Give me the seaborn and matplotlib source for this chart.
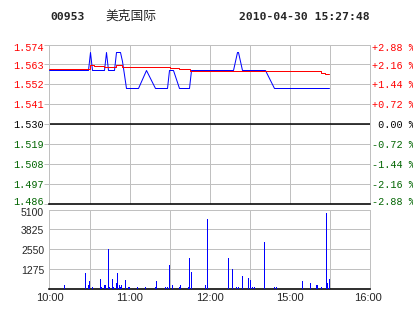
import matplotlib
matplotlib.use("Agg")
import matplotlib.pyplot as plt
import matplotlib.transforms as mtransforms
import seaborn as sns
import pandas as pd
import numpy as np

# ---------------- data ----------------
code = "00953"
name = "美克国际"
stamp = "2010-04-30 15:27:48"
prev_close = 1.530

pct_steps = [2.88, 2.16, 1.44, 0.72, 0.0, -0.72, -1.44, -2.16, -2.88]
price_labels = ["1.574", "1.563", "1.552", "1.541", "1.530",
                "1.519", "1.508", "1.497", "1.486"]
pct_labels = ["+2.88 %", "+2.16 %", "+1.44 %", "+0.72 %", " 0.00 %",
              "-0.72 %", "-1.44 %", "-2.16 %", "-2.88 %"]
vol_ticks = [5100, 3825, 2550, 1275]
vol_labels = ["5100", "3825", "2550", "1275"]
time_labels = ["10:00", "11:00", "12:00", "15:00", "16:00"]
time_label_min = [0, 60, 120, 180, 240]   # minutes on the 240-min session axis

# price (blue) - minutes since 10:00 on the trading-session axis
price_min = [0, 29, 30, 32, 41, 42, 44, 48, 50, 53, 54, 57, 66, 72, 79, 88, 89,
             92, 97, 104, 106, 137, 140, 141, 144, 161, 168, 209]
price_val = [1.56, 1.56, 1.57, 1.56, 1.56, 1.57, 1.56, 1.56, 1.57, 1.57, 1.565,
             1.55, 1.55, 1.56, 1.55, 1.55, 1.56, 1.56, 1.55, 1.55, 1.56, 1.56,
             1.57, 1.57, 1.56, 1.56, 1.55, 1.55]

# average price (red), step series
avg_min = [0, 30, 33, 41, 50, 54, 80, 90, 97, 105, 203, 206, 209]
avg_val = [1.5603, 1.5625, 1.5620, 1.5614, 1.5627, 1.5618, 1.5614, 1.5610,
           1.5606, 1.5595, 1.5586, 1.5576, 1.5576]

# volume bars
vol_min = [11, 27, 29, 30, 32, 38, 39, 41, 42, 44, 45, 47, 48, 50, 51, 52, 53,
           54, 57, 59, 60, 66, 72, 79, 80, 87, 88, 90, 92, 97, 98, 104, 105,
           106, 117, 118, 134, 137, 140, 141, 144, 149, 150, 152, 153, 161,
           168, 170, 189, 195, 200, 203, 207, 208, 209]
vol_val = [194, 1032, 194, 452, 129, 645, 129, 194, 194, 2540, 129, 645, 129,
           323, 1032, 194, 129, 194, 580, 129, 129, 129, 129, 129, 452, 129,
           129, 1548, 194, 129, 194, 129, 2000, 1097, 194, 4516, 2000, 1290,
           129, 129, 839, 710, 580, 129, 129, 3032, 129, 129, 452, 323, 258,
           129, 4903, 387, 645]

# ---------------- style ----------------
sns.set_style("white")
plt.rcParams["font.family"] = ["Liberation Sans", "DejaVu Sans"]

W, H = 414, 314
DPI = 100
GRID = "#C0C0C0"
RED = "#FF0000"
GREEN = "#006400"
BLUE = "#0000FF"
PX = 72.0 / DPI  # points per pixel

fig = plt.figure(figsize=(W / DPI, H / DPI), dpi=DPI)
fig.patch.set_facecolor("white")


def rect(l, t, r, b):
    return [l / W, 1 - b / H, (r - l) / W, (b - t) / H]


ax1 = fig.add_axes(rect(49.5, 44.6, 370.5, 203.6))
ax2 = fig.add_axes(rect(49.5, 209.5, 370.5, 288.5))

price_ticks = [prev_close * (1 + p / 100.0) for p in pct_steps]
ylo, yhi = min(price_ticks), max(price_ticks)

df_p = pd.DataFrame({"m": price_min, "p": price_val})
df_a = pd.DataFrame({"m": avg_min, "p": avg_val})
df_v = pd.DataFrame({"m": vol_min, "v": vol_val})

# ---- price panel ----
ax1.axhline(prev_close, color="black", lw=1.5 * PX, zorder=2)
sns.lineplot(data=df_p, x="m", y="p", ax=ax1, color=BLUE, linewidth=1.0 * PX,
             estimator=None, sort=False, snap=True, zorder=3)
sns.lineplot(data=df_a, x="m", y="p", ax=ax1, color=RED, linewidth=1.0 * PX,
             estimator=None, sort=False, drawstyle="steps-post", snap=True,
             zorder=4)
ax1.set_xlim(0, 240)
ax1.set_ylim(ylo, yhi)
ax1.set_xticks(np.arange(0, 241, 30))
ax1.set_xticklabels([])
ax1.tick_params(axis="x", length=0)
ax1.set_yticks(price_ticks)
ax1.set_yticklabels(price_labels)
ax1.grid(True, color=GRID, lw=1.0 * PX, antialiased=False)
ax1.set_xlabel("")
ax1.set_ylabel("")
ax1.tick_params(axis="y", length=5 * PX, width=1.0 * PX, color=GRID,
                pad=0.3, labelsize=7.3)
for lab, p in zip(ax1.get_yticklabels(), pct_steps):
    lab.set_fontfamily(["Liberation Mono", "DejaVu Sans Mono"])
    lab.set_color(RED if p > 0 else ("black" if p == 0 else GREEN))
for s in ax1.spines.values():
    s.set_color(GRID)
    s.set_linewidth(1.0 * PX)
ax1.spines["bottom"].set_color("black")
ax1.spines["bottom"].set_linewidth(1.6 * PX)

axr = ax1.twinx()
axr.set_ylim(ylo, yhi)
axr.set_yticks(price_ticks)
axr.set_yticklabels(pct_labels)
axr.tick_params(axis="y", length=0, pad=0.9, labelsize=7.3)
for lab, p in zip(axr.get_yticklabels(), pct_steps):
    lab.set_fontfamily(["Liberation Mono", "DejaVu Sans Mono"])
    lab.set_color(RED if p > 0 else ("black" if p == 0 else GREEN))
for s in axr.spines.values():
    s.set_visible(False)


def shift(lab, dx_px, dy_px):
    off = mtransforms.ScaledTranslation(dx_px / DPI, dy_px / DPI,
                                        fig.dpi_scale_trans)
    lab.set_transform(lab.get_transform() + off)


for axis_labels in (ax1.get_yticklabels(), axr.get_yticklabels()):
    labs = list(axis_labels)
    shift(labs[0], 0, -2.5)
    shift(labs[1], 0, -1.0)
    shift(labs[-1], 0, 3.0)

# ---- volume panel ----
sns.barplot(data=df_v, x="m", y="v", ax=ax2, native_scale=True, color=BLUE,
            saturation=1, width=0.75, errorbar=None, linewidth=0,
            edgecolor=BLUE, antialiased=False, zorder=3)
ax2.set_xlim(0, 240)
ax2.set_ylim(0, 5100)
ax2.set_xlabel("")
ax2.set_ylabel("")
ax2.set_yticks(vol_ticks)
ax2.set_yticklabels(vol_labels)
ax2.set_xticks(time_label_min)
ax2.set_xticklabels(time_labels)
ax2.set_xticks(np.arange(0, 241, 30), minor=True)
ax2.grid(True, which="minor", axis="x", color=GRID, lw=1.0 * PX,
         antialiased=False)
ax2.grid(True, which="major", axis="y", color=GRID, lw=1.0 * PX,
         antialiased=False)
ax2.grid(False, which="major", axis="x")
ax2.set_axisbelow(True)
ax2.tick_params(axis="x", which="both", length=0, pad=3.2, labelsize=8)
ax2.tick_params(axis="y", length=5 * PX, width=1.0 * PX, color=GRID,
                pad=0.3, labelsize=7.5)
for s in ax2.spines.values():
    s.set_color(GRID)
    s.set_linewidth(1.0 * PX)
ax2.spines["bottom"].set_color("black")
ax2.spines["bottom"].set_linewidth(1.6 * PX)

vlabs = list(ax2.get_yticklabels())
shift(vlabs[0], 0, -3.0)
for lab in vlabs[1:]:
    shift(lab, 0, -1.0)
xlabs = list(ax2.get_xticklabels())
shift(xlabs[-1], -3.0, 0)

# ---- header ----
fig.text(50 / W, 1 - 16.5 / H, code, fontfamily=["DejaVu Sans Mono"],
         fontweight="bold", fontsize=8.2, ha="left", va="center")
fig.text(105 / W, 1 - 16.5 / H, name,
         fontfamily=["Noto Sans CJK SC", "DejaVu Sans"],
         fontsize=9.2, ha="left", va="center")
fig.text(370 / W, 1 - 16.5 / H, stamp, fontfamily=["DejaVu Sans Mono"],
         fontweight="bold", fontsize=8.2, ha="right", va="center")

fig.savefig("out.png", dpi=DPI, facecolor="white")
